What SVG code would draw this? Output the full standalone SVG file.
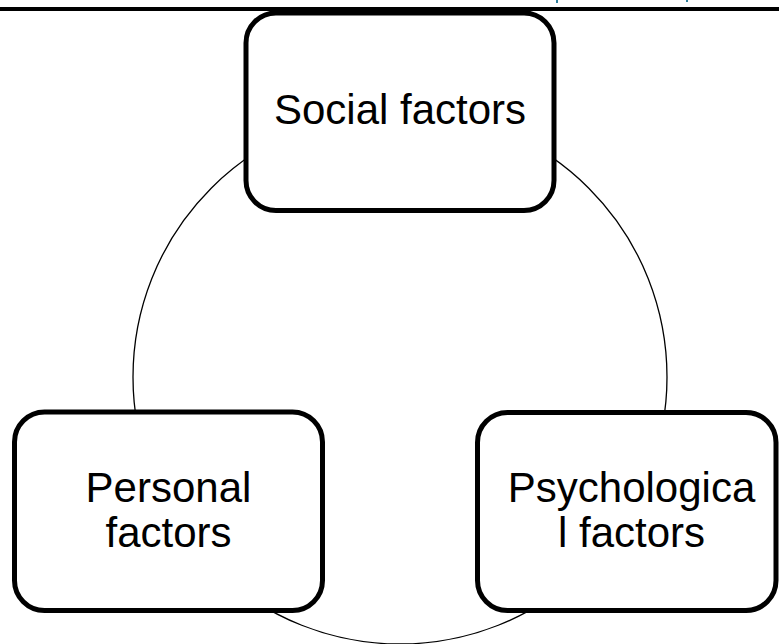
<svg xmlns="http://www.w3.org/2000/svg" width="779" height="644" viewBox="0 0 779 644">
<style>
.node rect{fill:#ffffff;stroke:#000000;stroke-width:5}
.node text{font-family:"Liberation Sans",Arial,sans-serif;font-size:42px;fill:#000000;text-anchor:middle}
.ring{fill:none;stroke:#000000;stroke-width:1.3}
</style>
<rect x="0" y="0" width="779" height="644" fill="#ffffff"/>
<g id="connectors">
<circle class="ring" cx="400" cy="377" r="267"/>
</g>
<g id="social" class="node">
<rect x="246" y="13" width="308" height="197.5" rx="30" ry="30"/>
<text x="400" y="124">Social factors</text>
</g>
<g id="personal" class="node">
<rect x="14.5" y="412" width="308" height="198.5" rx="30" ry="30"/>
<text x="168.5" y="502">Personal</text>
<text x="168.5" y="547">factors</text>
</g>
<g id="psychological" class="node">
<rect x="477.5" y="412.5" width="298.5" height="198" rx="30" ry="30"/>
<text x="631.5" y="502">Psychologica</text>
<text x="631.5" y="547">l factors</text>
</g>
<g id="header">
<line x1="0" y1="9" x2="779" y2="9" stroke="#000000" stroke-width="4"/>
<rect x="556" y="0" width="2" height="3" fill="#2f7f9c"/>
<rect x="686" y="0" width="2" height="2" fill="#2f7f9c"/>
</g>
</svg>
